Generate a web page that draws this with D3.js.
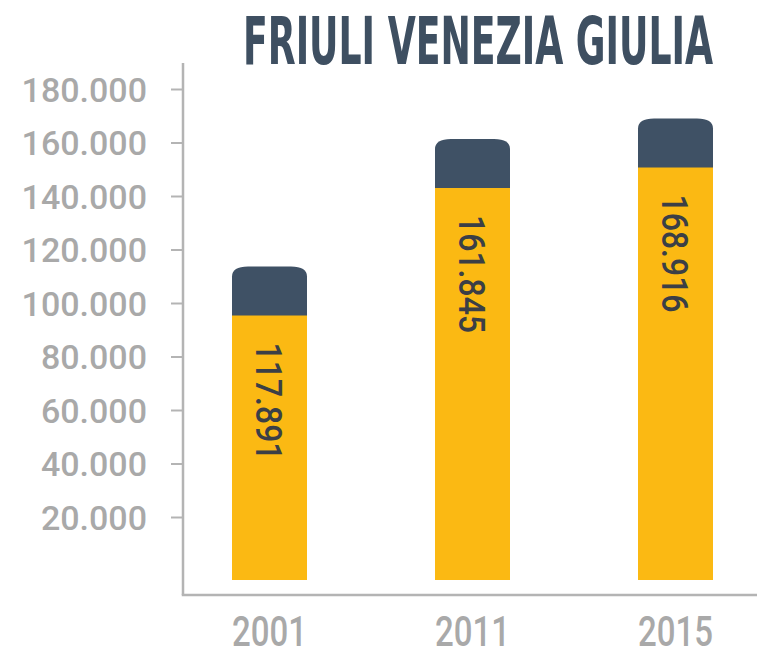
<!DOCTYPE html>
<html>
<head>
<meta charset="utf-8">
<script src="https://cdn.jsdelivr.net/npm/d3@7"></script>
<style>
  html, body { margin: 0; padding: 0; background: #ffffff; }
  svg { display: block; }
</style>
</head>
<body>
<svg id="chart" width="768" height="652"></svg>
<script>
const title = "FRIULI VENEZIA GIULIA";
const years = ["2001", "2011", "2015"];
const values = [117891, 161845, 168916];
const labels = ["117.891", "161.845", "168.916"];
const yTicks = [20000, 40000, 60000, 80000, 100000, 120000, 140000, 160000, 180000];

const svg = d3.select("#chart");

const colYellow = "#fbb913";
const colDark = "#3f5165";
const colAxis = "#b4b4b4";
const colAxisText = "#a9a9a9";
const colTitle = "#3e4f61";
const colValue = "#3b3f46";

const axisX = 183, axisTop = 63, baseY = 595, axisRight = 757;
const barBottom = 580, barW = 75, capH = 49;

const loc = d3.formatLocale({decimal: ",", thousands: ".", grouping: [3], currency: ["", "€"]});
const fmt = loc.format(",");

// axis scale
const y = d3.scaleLinear().domain([0, 180000]).range([570.5, 89]);
// bar height scale (infographic bars)
const yBar = d3.scaleLinear().domain([0, 180000]).range([608.4, 86.4]);
const x = d3.scalePoint().domain(years).range([269.5, 675.5]);

// title
svg.append("text")
  .attr("x", 478).attr("y", 64)
  .attr("text-anchor", "middle")
  .attr("font-family", "'Liberation Sans Narrow', 'DejaVu Sans Condensed', Roboto, sans-serif")
  .attr("font-weight", "bold")
  .attr("font-size", 66)
  .attr("textLength", 470)
  .attr("lengthAdjust", "spacingAndGlyphs")
  .attr("fill", colTitle)
  .text(title);

// y axis
const yAxis = d3.axisLeft(y).tickValues(yTicks).tickFormat(fmt).tickSize(12).tickPadding(24);
const gy = svg.append("g").attr("transform", `translate(${axisX},0)`).call(yAxis);
gy.select(".domain").remove();
gy.selectAll(".tick line").attr("stroke", colAxis).attr("stroke-width", 2);
gy.selectAll(".tick text")
  .attr("fill", colAxisText)
  .attr("font-family", "Roboto, 'Noto Sans', sans-serif")
  .attr("font-weight", 500)
  .attr("font-size", 34)
  .attr("dy", "0.36em");

// axis lines
svg.append("line").attr("x1", axisX).attr("x2", axisX).attr("y1", axisTop).attr("y2", baseY)
  .attr("stroke", colAxis).attr("stroke-width", 2.5);
svg.append("line").attr("x1", axisX - 1.25).attr("x2", axisRight).attr("y1", baseY).attr("y2", baseY)
  .attr("stroke", colAxis).attr("stroke-width", 2.5);

// bars
const data = years.map((yr, i) => ({year: yr, value: values[i], label: labels[i]}));
const g = svg.append("g");

g.selectAll("rect.bar").data(data).join("rect")
  .attr("class", "bar")
  .attr("x", d => x(d.year) - barW / 2)
  .attr("y", d => yBar(d.value) + capH - 1)
  .attr("width", barW)
  .attr("height", d => barBottom - (yBar(d.value) + capH - 1))
  .attr("fill", colYellow);

const rx = 16, ry = 10;
g.selectAll("path.cap").data(data).join("path")
  .attr("class", "cap")
  .attr("d", d => {
    const x0 = x(d.year) - barW / 2, x1 = x0 + barW;
    const t = yBar(d.value), b = t + capH;
    return `M${x0},${b} L${x0},${t + ry} Q${x0},${t} ${x0 + rx},${t} L${x1 - rx},${t} Q${x1},${t} ${x1},${t + ry} L${x1},${b} Z`;
  })
  .attr("fill", colDark);

g.selectAll("text.val").data(data).join("text")
  .attr("class", "val")
  .attr("transform", d => `translate(${x(d.year)},${yBar(d.value) + capH + 27}) rotate(90)`)
  .attr("dy", "0.36em")
  .attr("text-anchor", "start")
  .attr("font-family", "Roboto, 'Noto Sans', sans-serif")
  .attr("font-weight", 500)
  .attr("font-size", 37)
  .attr("textLength", 118)
  .attr("lengthAdjust", "spacingAndGlyphs")
  .attr("fill", colValue)
  .text(d => d.label);

// x labels
svg.selectAll("text.xl").data(data).join("text")
  .attr("class", "xl")
  .attr("x", d => x(d.year))
  .attr("y", 646)
  .attr("text-anchor", "middle")
  .attr("font-family", "Roboto, 'Noto Sans', sans-serif")
  .attr("font-weight", 500)
  .attr("font-size", 42)
  .attr("textLength", 75)
  .attr("lengthAdjust", "spacingAndGlyphs")
  .attr("fill", colAxisText)
  .text(d => d.year);
</script>
</body>
</html>
